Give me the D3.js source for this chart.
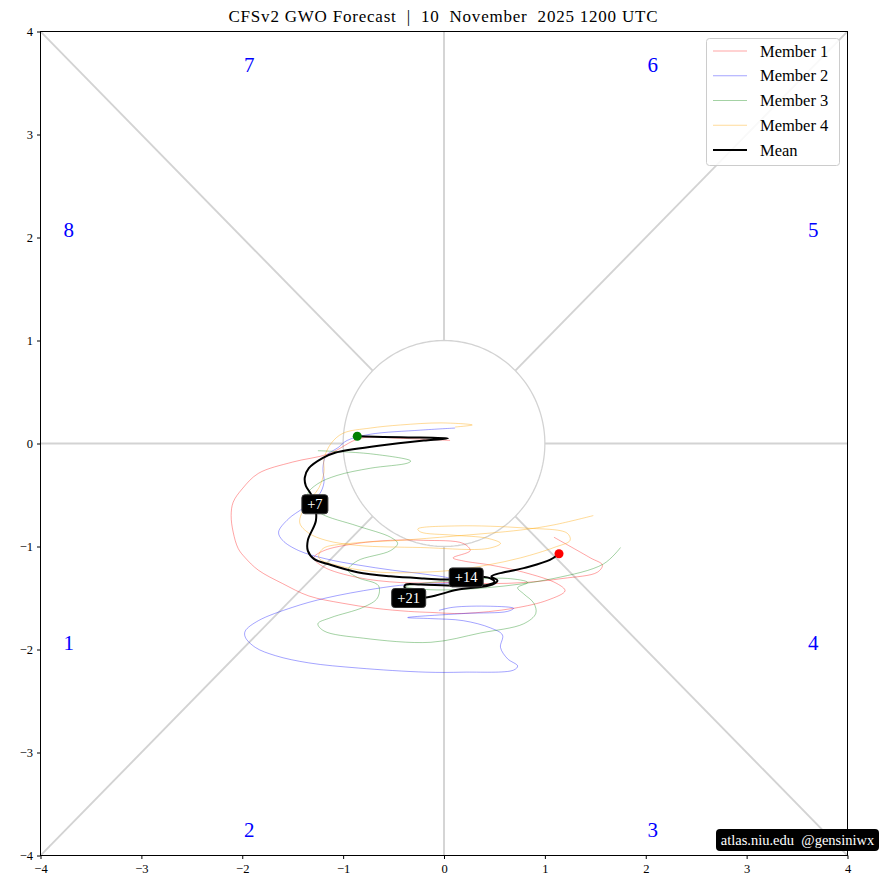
<!DOCTYPE html>
<html><head><meta charset="utf-8">
<script src="https://cdn.jsdelivr.net/npm/d3@7"></script>
<style>
body{margin:0;background:#fff;}
text{font-family:"Liberation Serif","DejaVu Serif",serif;white-space:pre;}
</style></head>
<body><svg id="c" width="881" height="890"></svg>
<script>
const titleText = "CFSv2 GWO Forecast  |  10  November  2025 1200 UTC";
const tickValues = [-4,-3,-2,-1,0,1,2,3,4];
const phaseLabels = ["1","2","3","4","5","6","7","8"];
const phasePos = [[-3.72,-1.94],[-1.93,-3.75],[2.07,-3.75],[3.66,-1.94],[3.66,2.07],[2.07,3.67],[-1.93,3.67],[-3.72,2.07]];
const seriesNames = ["Member 1","Member 2","Member 3","Member 4","Mean"];
const member1 = [[0.06,0.03],[-0.43,0.05],[-0.83,0.05],[-1.14,-0.10],[-1.50,-0.18],[-1.84,-0.29],[-2.00,-0.44],[-2.09,-0.57],[-2.11,-0.70],[-2.09,-0.86],[-2.04,-1.02],[-1.97,-1.11],[-1.84,-1.23],[-1.60,-1.36],[-1.34,-1.48],[-1.01,-1.55],[-0.68,-1.60],[-0.35,-1.63],[-0.13,-1.64],[0.19,-1.65],[0.69,-1.60],[1.03,-1.52],[1.20,-1.43],[1.12,-1.36],[0.79,-1.25],[0.46,-1.18],[0.19,-1.14],[0.09,-1.11],[0.26,-1.04],[0.19,-0.97],[-0.20,-0.94],[-0.53,-0.94],[-0.86,-0.97],[-1.19,-1.04],[-1.29,-1.11],[-1.19,-1.20],[-0.86,-1.30],[-0.43,-1.35],[0.09,-1.35],[0.46,-1.36],[0.79,-1.35],[1.18,-1.31],[1.52,-1.25],[1.57,-1.18],[1.45,-1.11],[1.09,-0.91]];
const member2 = [[0.11,0.15],[-0.23,0.13],[-0.73,0.09],[-0.96,0.03],[-1.05,-0.04],[-1.17,-0.12],[-1.20,-0.24],[-1.19,-0.38],[-1.24,-0.50],[-1.40,-0.63],[-1.54,-0.73],[-1.64,-0.86],[-1.60,-0.94],[-1.44,-1.04],[-1.17,-1.12],[-0.85,-1.18],[-0.51,-1.23],[-0.18,-1.27],[0.06,-1.31],[0.11,-1.34],[-0.03,-1.36],[-0.36,-1.37],[-0.68,-1.41],[-1.17,-1.50],[-1.50,-1.59],[-1.84,-1.72],[-1.97,-1.82],[-1.97,-1.88],[-1.87,-1.98],[-1.67,-2.06],[-1.34,-2.13],[-0.85,-2.18],[-0.18,-2.22],[0.19,-2.22],[0.69,-2.20],[0.73,-2.16],[0.63,-2.09],[0.56,-1.98],[0.58,-1.86],[0.46,-1.79],[0.19,-1.72],[-0.13,-1.70],[-0.36,-1.69],[0.21,-1.65],[0.63,-1.63],[0.69,-1.60],[0.46,-1.58],[0.09,-1.59],[-0.05,-1.62]];
const member3 = [[-1.25,-0.07],[-0.73,-0.10],[-0.33,-0.17],[-0.36,-0.19],[-0.73,-0.24],[-1.06,-0.31],[-1.25,-0.39],[-1.35,-0.49],[-1.30,-0.60],[-1.22,-0.68],[-0.86,-0.80],[-0.53,-0.91],[-0.46,-0.97],[-0.53,-1.04],[-0.86,-1.14],[-0.95,-1.23],[-0.86,-1.30],[-0.65,-1.38],[-0.66,-1.50],[-0.80,-1.59],[-1.12,-1.69],[-1.25,-1.75],[-1.19,-1.82],[-0.80,-1.89],[-0.13,-1.93],[0.36,-1.84],[0.79,-1.75],[0.91,-1.65],[0.89,-1.55],[0.79,-1.46],[0.73,-1.40],[0.83,-1.35],[0.63,-1.31],[0.13,-1.33],[-0.23,-1.36],[-0.38,-1.39],[-0.13,-1.42],[0.43,-1.40],[1.09,-1.31],[1.58,-1.17],[1.75,-1.01]];
const member4 = [[0.11,0.16],[0.28,0.18],[-0.03,0.20],[-0.43,0.18],[-0.73,0.15],[-1.00,0.10],[-1.12,0.00],[-1.19,-0.15],[-1.19,-0.28],[-1.24,-0.43],[-1.37,-0.60],[-1.43,-0.77],[-1.34,-0.87],[-1.17,-0.94],[-0.85,-0.99],[-0.23,-1.01],[0.43,-1.02],[0.56,-0.97],[0.43,-0.92],[0.09,-0.89],[-0.23,-0.86],[-0.26,-0.83],[0.13,-0.80],[0.79,-0.82],[1.22,-0.87],[1.25,-0.94],[1.09,-1.01],[0.76,-1.11],[0.43,-1.18],[0.09,-1.23],[-0.23,-1.25],[-0.63,-1.25],[-1.03,-1.19],[-1.24,-1.11],[-1.20,-1.02],[-0.93,-0.97],[-0.43,-0.94],[0.09,-0.90],[0.76,-0.84],[1.09,-0.79],[1.48,-0.70]];
const meanPath = [[-0.86,0.07],[-0.43,0.06],[0.04,0.05],[-0.18,0.03],[-0.63,-0.02],[-1.08,-0.09],[-1.20,-0.14],[-1.34,-0.24],[-1.38,-0.33],[-1.37,-0.41],[-1.32,-0.49],[-1.28,-0.59],[-1.27,-0.75],[-1.35,-0.94],[-1.35,-1.04],[-1.29,-1.12],[-1.12,-1.18],[-0.86,-1.25],[-0.53,-1.29],[-0.20,-1.31],[0.06,-1.32],[0.22,-1.30],[0.43,-1.30],[0.50,-1.34],[0.44,-1.37],[0.13,-1.38],[-0.23,-1.37],[-0.38,-1.37],[-0.39,-1.40],[-0.31,-1.44],[-0.35,-1.50],[-0.15,-1.49],[0.13,-1.42],[0.48,-1.37],[0.53,-1.33],[0.47,-1.29],[0.79,-1.21],[1.05,-1.13],[1.14,-1.07]];
const dayLabels = ["+7","+14","+21"];
const dayIndex = [11,21,30];
const watermark = "atlas.niu.edu  @gensiniwx";

const svg = d3.select("#c");
const x = d3.scaleLinear().domain([-4,4]).range([40.5,847.5]);
const y = d3.scaleLinear().domain([-4,4]).range([855.5,31.5]);

svg.append("defs").append("clipPath").attr("id","clip").append("rect")
  .attr("x",x(-4)).attr("y",y(4)).attr("width",x(4)-x(-4)).attr("height",y(-4)-y(4));
const g = svg.append("g").attr("clip-path","url(#clip)");

// phase lines
const grey = "#d3d3d3";
const dirs = [[1,0],[-1,0],[0,1],[0,-1],[1,1],[1,-1],[-1,1],[-1,-1]];
dirs.forEach(([dx,dy])=>{
  const n = Math.hypot(dx,dy);
  g.append("line")
    .attr("x1",x(dx/n)).attr("y1",y(dy/n))
    .attr("x2",x(4*dx)).attr("y2",y(4*dy))
    .attr("stroke",grey).attr("stroke-width",1.9);
});
// unit circle
const circ = d3.range(0,361,2).map(a=>[Math.cos(a*Math.PI/180),Math.sin(a*Math.PI/180)]);
g.append("path").attr("d",d3.line().x(d=>x(d[0])).y(d=>y(d[1]))(circ))
  .attr("fill","none").attr("stroke",grey).attr("stroke-width",1.3);

// phase labels
phaseLabels.forEach((t,i)=>{
  g.append("text").attr("x",x(phasePos[i][0])).attr("y",y(phasePos[i][1]))
    .attr("text-anchor","middle").attr("dominant-baseline","central")
    .attr("fill","blue").attr("font-size",21).text(t);
});

const line = d3.line().x(d=>x(d[0])).y(d=>y(d[1])).curve(d3.curveCatmullRom.alpha(0.5));
const memberColors = ["rgba(255,0,0,0.45)","rgba(0,0,255,0.45)","rgba(0,128,0,0.45)","rgba(255,165,0,0.5)"];
[member1,member2,member3,member4].forEach((m,i)=>{
  g.append("path").attr("d",line(m)).attr("fill","none")
    .attr("stroke",memberColors[i]).attr("stroke-width",0.8);
});
g.append("path").attr("d",line(meanPath)).attr("fill","none")
  .attr("stroke","black").attr("stroke-width",2);

// start / end markers
g.append("circle").attr("cx",x(meanPath[0][0])).attr("cy",y(meanPath[0][1])).attr("r",4.5).attr("fill","green");
const last = meanPath[meanPath.length-1];
g.append("circle").attr("cx",x(last[0])).attr("cy",y(last[1])).attr("r",4.5).attr("fill","red");

// day labels
dayLabels.forEach((t,i)=>{
  const p = meanPath[dayIndex[i]];
  const cx = x(p[0]), cy = y(p[1]);
  const w = t.length>2 ? 34 : 26;
  g.append("rect").attr("x",cx-w/2).attr("y",cy-9.5).attr("width",w).attr("height",19)
    .attr("rx",3).attr("fill","black").attr("stroke","#333").attr("stroke-width",1);
  g.append("text").attr("x",cx).attr("y",cy).attr("text-anchor","middle")
    .attr("dominant-baseline","central").attr("fill","white").attr("font-size",14.5).text(t);
});

// frame
svg.append("rect").attr("x",x(-4)).attr("y",y(4)).attr("width",x(4)-x(-4)).attr("height",y(-4)-y(4))
  .attr("fill","none").attr("stroke","black").attr("stroke-width",1);

const fmt = d=> d<0 ? "\u2212"+(-d) : String(d);
const ax = svg.append("g").attr("transform",`translate(0,${y(-4)})`)
  .call(d3.axisBottom(x).tickValues(tickValues).tickSize(3.5).tickPadding(5).tickFormat(fmt));
const ay = svg.append("g").attr("transform",`translate(${x(-4)},0)`)
  .call(d3.axisLeft(y).tickValues(tickValues).tickSize(3.5).tickPadding(4).tickFormat(fmt));
[ax,ay].forEach(a=>{
  a.select(".domain").remove();
  a.selectAll("text").attr("font-family","Liberation Serif, serif").attr("font-size",12.5).attr("fill","black");
  a.selectAll("line").attr("stroke","black");
});

// title
svg.append("text").attr("x",443).attr("y",22).attr("text-anchor","middle")
  .attr("font-size",17).attr("fill","black")
  .attr("textLength",429).attr("lengthAdjust","spacing").text(titleText);

// legend
const lg = svg.append("g");
lg.append("rect").attr("x",706.5).attr("y",38.5).attr("width",133).attr("height",127).attr("rx",3)
  .attr("fill","white").attr("fill-opacity",0.85).attr("stroke","#cccccc");
const legColors = ["rgba(255,0,0,0.45)","rgba(0,0,255,0.45)","rgba(0,128,0,0.45)","rgba(255,165,0,0.5)","black"];
seriesNames.forEach((n,i)=>{
  const yy = 51 + i*24.75;
  lg.append("line").attr("x1",713).attr("x2",747).attr("y1",yy).attr("y2",yy)
    .attr("stroke",legColors[i]).attr("stroke-width",i===4?2:0.8);
  lg.append("text").attr("x",760).attr("y",yy).attr("dominant-baseline","central")
    .attr("font-size",16.5).attr("fill","black").text(n);
});

// watermark
svg.append("rect").attr("x",716).attr("y",829).attr("width",163).attr("height",22).attr("rx",4).attr("fill","black");
svg.append("text").attr("x",797.5).attr("y",840).attr("text-anchor","middle").attr("dominant-baseline","central")
  .attr("font-size",14.5).attr("fill","white").text(watermark);
</script></body></html>
